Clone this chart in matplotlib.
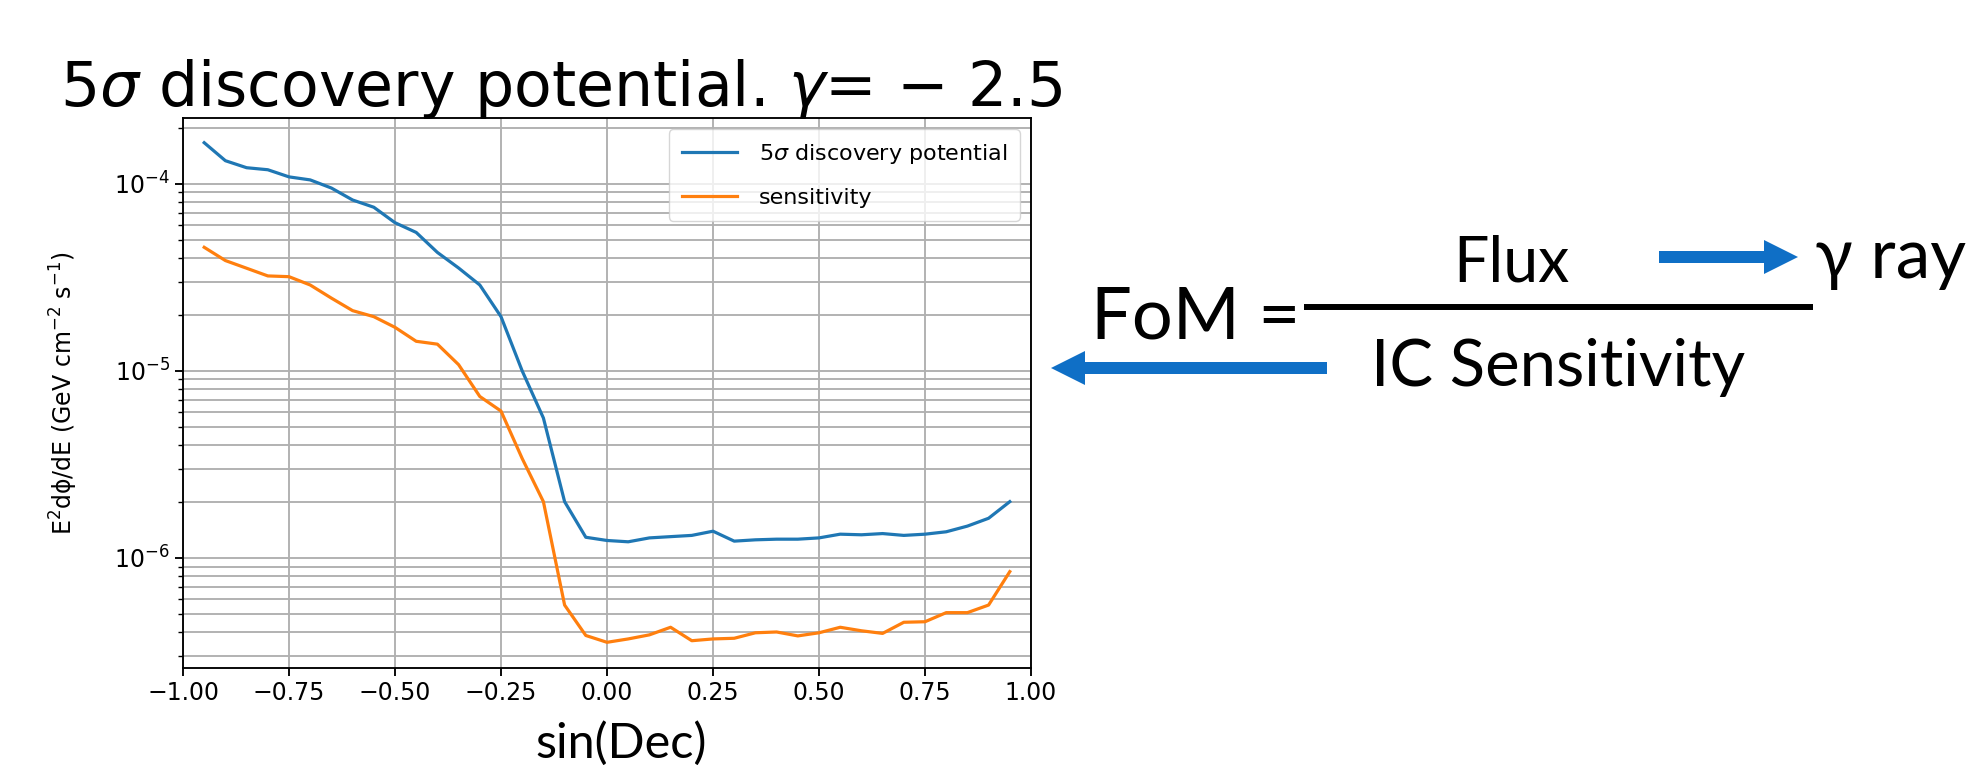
import matplotlib
matplotlib.use('Agg')
import matplotlib.pyplot as plt
from matplotlib.patches import FancyArrow
from matplotlib.ticker import MultipleLocator

sin_dec = [-0.95, -0.90, -0.85, -0.80, -0.75, -0.70, -0.65, -0.60, -0.55, -0.50,
           -0.45, -0.40, -0.35, -0.30, -0.25, -0.20, -0.15, -0.10, -0.05, 0.00,
           0.05, 0.10, 0.15, 0.20, 0.25, 0.30, 0.35, 0.40, 0.45, 0.50,
           0.55, 0.60, 0.65, 0.70, 0.75, 0.80, 0.85, 0.90, 0.95]

discovery = [1.66e-4, 1.33e-4, 1.22e-4, 1.19e-4, 1.09e-4, 1.05e-4, 9.5e-5, 8.2e-5, 7.5e-5, 6.2e-5,
             5.5e-5, 4.3e-5, 3.55e-5, 2.88e-5, 1.95e-5, 1.0e-5, 5.6e-6, 2.0e-6, 1.29e-6, 1.24e-6,
             1.22e-6, 1.28e-6, 1.30e-6, 1.32e-6, 1.39e-6, 1.23e-6, 1.25e-6, 1.26e-6, 1.26e-6, 1.28e-6,
             1.34e-6, 1.33e-6, 1.35e-6, 1.32e-6, 1.34e-6, 1.38e-6, 1.48e-6, 1.63e-6, 2.0e-6]

sensitivity = [4.58e-5, 3.89e-5, 3.54e-5, 3.22e-5, 3.19e-5, 2.88e-5, 2.45e-5, 2.1e-5, 1.95e-5, 1.71e-5,
               1.44e-5, 1.39e-5, 1.08e-5, 7.3e-6, 6.1e-6, 3.4e-6, 2.0e-6, 5.6e-7, 3.85e-7, 3.54e-7,
               3.69e-7, 3.88e-7, 4.26e-7, 3.61e-7, 3.69e-7, 3.72e-7, 3.98e-7, 4.02e-7, 3.83e-7, 3.98e-7,
               4.26e-7, 4.08e-7, 3.95e-7, 4.53e-7, 4.56e-7, 5.1e-7, 5.1e-7, 5.6e-7, 8.45e-7]

W, H = 1985, 765
slide_font = ['Lato', 'DejaVu Sans']
arrow_blue = '#0F6FC6'


def main():
    fig = plt.figure(figsize=(W / 100, H / 100), dpi=100)
    ax = fig.add_axes([183 / W, 1 - 668 / H, 848 / W, 550 / H])

    ax.plot(sin_dec, discovery, color='#1f77b4', lw=2.3, label=r'5$\sigma$ discovery potential')
    ax.plot(sin_dec, sensitivity, color='#ff7f0e', lw=2.3, label='sensitivity')

    ax.set_yscale('log')
    ax.set_xlim(-1, 1)
    ax.set_ylim(2.58e-7, 2.25e-4)
    ax.xaxis.set_major_locator(MultipleLocator(0.25))
    ax.grid(True, which='both', color='#b0b0b0', linewidth=1.35)
    ax.tick_params(which='major', length=5.9, width=1.35, labelsize=17)
    ax.tick_params(which='minor', length=3.4, width=1.0)
    for sp in ax.spines.values():
        sp.set_linewidth(1.35)

    ax.set_ylabel(r'E$^2$dϕ/dE (GeV cm$^{-2}$ s$^{-1}$)', fontsize=17)
    ax.yaxis.set_label_coords(-0.1215, 0.5)
    ax.legend(loc='upper right', fontsize=16, labelspacing=0.96, borderpad=0.59,
              handlelength=2.5, handletextpad=0.95)

    fig.text(561 / W, 1 - 106 / H, r'5$\sigma$ discovery potential. $\gamma$= − 2.5',
             ha='center', va='baseline', fontsize=44.5)
    fig.text(621 / W, 1 - 758 / H, 'sin(Dec)', ha='center', va='baseline',
             fontsize=35, family=slide_font)

    # slide annotations drawn in pixel coordinates
    ov = fig.add_axes([0, 0, 1, 1])
    ov.set_xlim(0, W)
    ov.set_ylim(H, 0)
    ov.set_axis_off()

    ov.text(1091, 338, 'FoM =', ha='left', va='baseline', fontsize=52, family=slide_font)
    ov.plot([1304, 1813], [307, 307], color='black', lw=4.3, solid_capstyle='butt')
    ov.text(1453, 281, 'Flux', ha='left', va='baseline', fontsize=45, family=slide_font)
    ov.text(1371, 386, 'IC Sensitivity', ha='left', va='baseline', fontsize=47, family=slide_font)
    ov.text(1815, 278, 'γ ray', ha='left', va='baseline', fontsize=50, family=slide_font)

    ov.add_patch(FancyArrow(1659, 257, 1798 - 1659, 0, width=12, head_width=34, head_length=34,
                            length_includes_head=True, color=arrow_blue, lw=0))
    ov.add_patch(FancyArrow(1327, 368, 1051 - 1327, 0, width=12, head_width=34, head_length=34,
                            length_includes_head=True, color=arrow_blue, lw=0))

    fig.savefig('out.png', dpi=100)


if __name__ == "__main__":
    main()
